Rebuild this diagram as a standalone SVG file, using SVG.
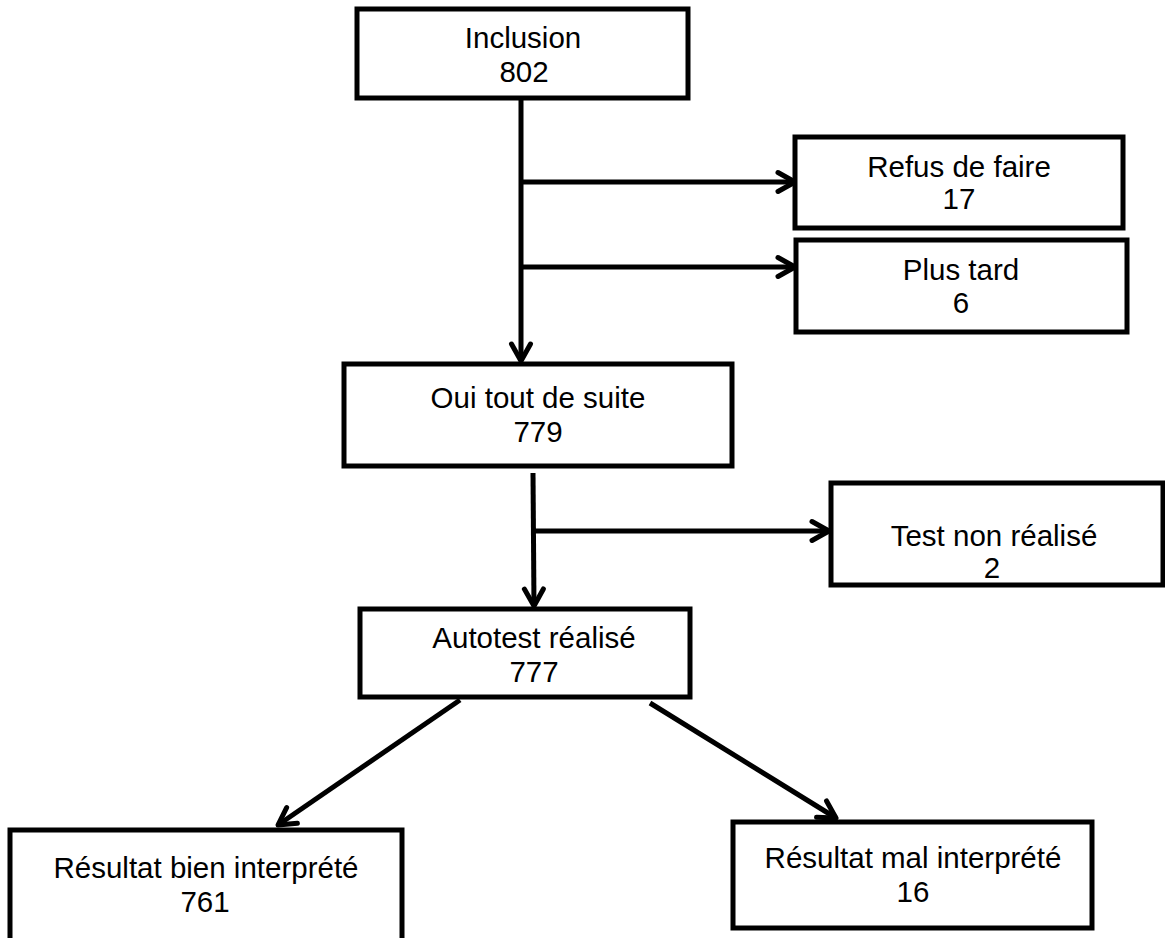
<svg xmlns="http://www.w3.org/2000/svg" width="1165" height="938" viewBox="0 0 1165 938">
<style>
.box{fill:#fff;stroke:#000;stroke-width:5}
.lbl{font-family:"Liberation Sans",Arial,sans-serif;font-size:29.5px;fill:#000;text-anchor:middle}
.con{fill:none;stroke:#000;stroke-width:5}
</style>
<defs>
<marker id="arr" viewBox="-22 -14 26 28" markerWidth="26" markerHeight="28" refX="0" refY="0" orient="auto" markerUnits="userSpaceOnUse">
<path d="M-17,-9.5 L0,0 L-17,9.5" fill="none" stroke="#000" stroke-width="5" stroke-linecap="round" stroke-linejoin="round"/>
</marker>
</defs>
<rect width="1165" height="938" fill="#fff"/>
<g id="connectors">
<line class="con" x1="521" y1="98" x2="521" y2="361" marker-end="url(#arr)"/>
<line class="con" x1="521" y1="182" x2="795" y2="182" marker-end="url(#arr)"/>
<line class="con" x1="521" y1="267" x2="795" y2="267" marker-end="url(#arr)"/>
<line class="con" x1="533" y1="473" x2="534" y2="606" marker-end="url(#arr)"/>
<line class="con" x1="533" y1="531" x2="829" y2="531" marker-end="url(#arr)"/>
<line class="con" x1="460" y1="700" x2="278" y2="825" marker-end="url(#arr)"/>
<line class="con" x1="650" y1="703" x2="836" y2="818" marker-end="url(#arr)"/>
</g>
<g id="n-inclusion">
<rect class="box" x="357" y="9" width="331" height="89"/>
<text class="lbl" x="523" y="48">Inclusion</text>
<text class="lbl" x="524" y="82">802</text>
</g>
<g id="n-refus">
<rect class="box" x="795" y="137" width="328" height="91"/>
<text class="lbl" x="959" y="177">Refus de faire</text>
<text class="lbl" x="959" y="209">17</text>
</g>
<g id="n-plustard">
<rect class="box" x="796" y="240" width="331" height="92"/>
<text class="lbl" x="961" y="280">Plus tard</text>
<text class="lbl" x="961" y="313">6</text>
</g>
<g id="n-oui">
<rect class="box" x="344" y="364" width="388" height="102"/>
<text class="lbl" x="538" y="408">Oui tout de suite</text>
<text class="lbl" x="538" y="442">779</text>
</g>
<g id="n-test">
<rect class="box" x="831" y="483" width="332" height="102"/>
<text class="lbl" x="994" y="546">Test non réalisé</text>
<text class="lbl" x="992" y="578">2</text>
</g>
<g id="n-autotest">
<rect class="box" x="360" y="609" width="330" height="88"/>
<text class="lbl" x="534" y="648">Autotest réalisé</text>
<text class="lbl" x="534" y="682">777</text>
</g>
<g id="n-bien">
<rect class="box" x="10" y="830" width="392" height="130"/>
<text class="lbl" x="206" y="878">Résultat bien interprété</text>
<text class="lbl" x="205" y="912">761</text>
</g>
<g id="n-mal">
<rect class="box" x="733" y="822" width="359" height="106"/>
<text class="lbl" x="913" y="868">Résultat mal interprété</text>
<text class="lbl" x="913" y="902">16</text>
</g>
</svg>
